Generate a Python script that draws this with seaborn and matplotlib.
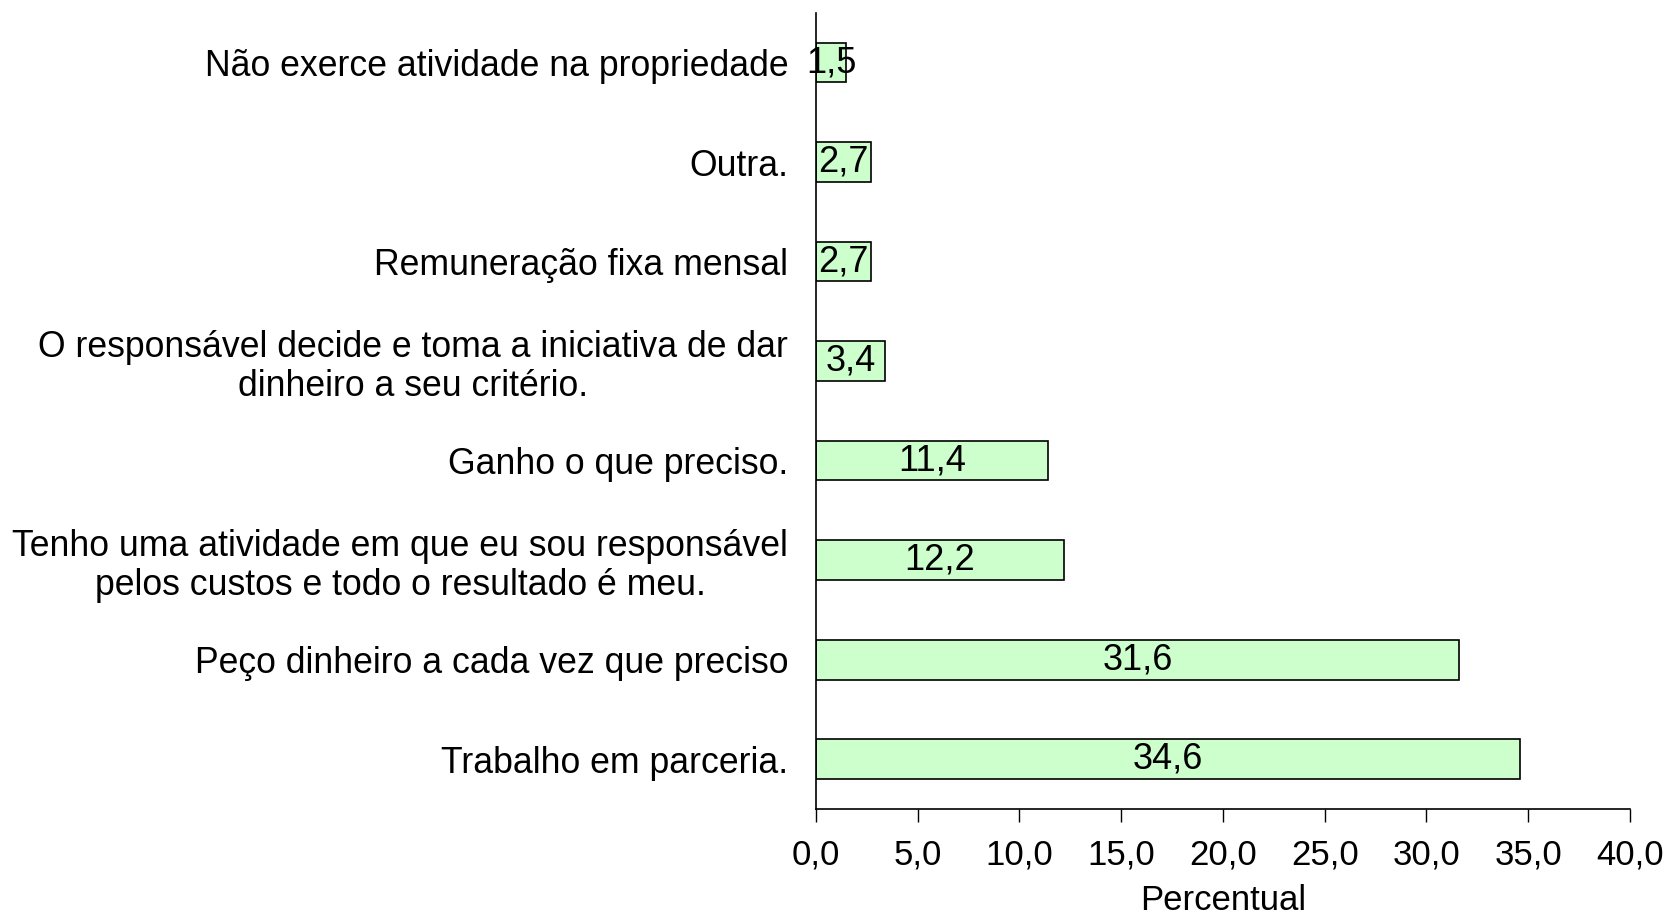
import matplotlib
matplotlib.use('Agg')
import matplotlib.pyplot as plt
import pandas as pd
import seaborn as sns

categorias = ['Não exerce atividade na propriedade',
              'Outra.',
              'Remuneração fixa mensal',
              'O responsável decide e toma a iniciativa de dar\ndinheiro a seu critério.',
              'Ganho o que preciso.',
              'Tenho uma atividade em que eu sou responsável\npelos custos e todo o resultado é meu.',
              'Peço dinheiro a cada vez que preciso',
              'Trabalho em parceria.']
percentual = [1.5, 2.7, 2.7, 3.4, 11.4, 12.2, 31.6, 34.6]
ticks = [0, 5, 10, 15, 20, 25, 30, 35, 40]

df = pd.DataFrame({'cat': categorias, 'pct': percentual})

sns.set_theme(style='white')
plt.rcParams['font.family'] = ['Liberation Sans', 'DejaVu Sans']
plt.rcParams['text.color'] = 'black'
plt.rcParams['axes.labelcolor'] = 'black'
plt.rcParams['xtick.color'] = 'black'
plt.rcParams['ytick.color'] = 'black'

fig = plt.figure(figsize=(16.7, 9.15), dpi=100)
ax = fig.add_axes([0.4886, 0.116, 0.4874, 0.87])

sns.barplot(data=df, x='pct', y='cat', order=categorias, orient='h',
            color='#CCFFCC', saturation=1, edgecolor='black', linewidth=1.2,
            width=0.4, ax=ax)

# rótulos dos valores com vírgula decimal
ax.bar_label(ax.containers[0],
             labels=[f'{v:.1f}'.replace('.', ',') for v in percentual],
             label_type='center', fontsize=26, color='black')

ax.set_xlim(0, 40)
ax.set_ylim(7.5, -0.5)
ax.set_xticks(ticks)
ax.set_xticklabels([f'{t:.1f}'.replace('.', ',') for t in ticks], fontsize=25)
ax.set_xlabel('Percentual', fontsize=25, labelpad=9)
ax.set_ylabel('')
for lab in ax.get_yticklabels():
    lab.set_fontsize(25.7)
    lab.set_multialignment('center')
    lab.set_linespacing(1.15)

ax.tick_params(axis='y', length=0, pad=20)
ax.tick_params(axis='x', direction='out', length=9, width=1, pad=12, bottom=True)

sns.despine(ax=ax, top=True, right=True)
for s in ['left', 'bottom']:
    ax.spines[s].set_color('black')
    ax.spines[s].set_linewidth(1.2)

fig.savefig('out.png', dpi=100)
